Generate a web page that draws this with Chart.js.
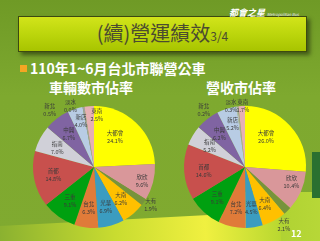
<!DOCTYPE html>
<html><head><meta charset="utf-8">
<script src="https://cdn.jsdelivr.net/npm/chart.js@4/dist/chart.umd.min.js"></script>
<style>
html,body{margin:0;padding:0;}
body{width:320px;height:241px;overflow:hidden;position:relative;background:#7ba62c;font-family:"Noto Sans CJK TC","Noto Sans",sans-serif;}
#bg{position:absolute;left:0;top:0;width:320px;height:241px;background:linear-gradient(180deg,#6f9a26 0%,#7ea92f 40%,#80aa30 100%);}
#panel{position:absolute;left:226px;top:192px;width:100px;height:60px;background:linear-gradient(90deg,#a6cc2c,#b8d838);}
#darkedge{position:absolute;left:312px;top:152px;width:8px;height:46px;background:#2a7030;}
#band{position:absolute;left:-20px;top:227px;width:300px;height:30px;background:linear-gradient(90deg,#80aa30 0%,#c9dc30 45%,#f0f040 75%,#b9d830 100%);transform:rotate(-3deg);transform-origin:0 0;}
#banner{position:absolute;left:18px;top:16px;width:287px;height:34px;background:linear-gradient(180deg,#d2e41a 0%,#bcd60c 50%,#a8c400 100%);border:1px solid #3d4a10;box-shadow:3px 3px 4px rgba(30,40,10,0.6);}
#title{position:absolute;left:0;top:15px;width:320px;height:36px;line-height:36px;text-align:center;color:#4b4b30;font-size:20px;padding-left:5px;box-sizing:border-box;}
#title small{font-size:12px;}
#logo{position:absolute;left:229px;top:6px;color:#fff;font-size:9px;font-style:italic;font-weight:bold;}
#logo span{font-size:4px;font-weight:normal;margin-left:2px;color:#eef;}
#bullet{position:absolute;left:20px;top:65px;width:7px;height:7px;background:#f5a623;}
#sub{position:absolute;left:30px;top:59px;color:#fff;font-weight:bold;font-size:14px;line-height:18px;}
.h{position:absolute;top:78px;color:#fff;font-weight:bold;font-size:14px;line-height:18px;width:140px;text-align:center;}
#page{position:absolute;left:291px;top:227px;color:#fff;font-weight:bold;font-size:9px;}
canvas{position:absolute;}
</style></head>
<body>
<div id="bg"></div>
<div id="panel"></div>
<div id="darkedge"></div>
<div id="band"></div>
<div id="banner"></div>
<div id="title">(續)營運績效<small>3/4</small></div>
<div id="logo">都會之星<span>Metropolitan Bus</span></div>
<div id="bullet"></div>
<div id="sub">110年1~6月台北市聯營公車</div>
<div class="h" style="left:21px">車輛數市佔率</div>
<div class="h" style="left:171px">營收市佔率</div>
<canvas id="c1" width="150" height="140" style="left:19px;top:97px"></canvas>
<canvas id="c2" width="150" height="140" style="left:170px;top:97px"></canvas>
<div id="page">12</div>
<script>
const companies = ["大都會","欣欣","大有","大南","光華","台北","三重","首都","指南","中興","新店","淡水","新北","東南"];
const vehicleShare = [24.1,9.6,1.9,6.2,6.9,6.3,9.1,14.8,7.0,6.7,4.0,0.0,0.5,2.5];
const revenueShare = [26.0,10.4,2.1,6.4,4.5,7.2,9.1,14.6,5.2,6.2,5.2,0.3,0.2,1.7];
const sliceColors = ["#ffff00","#d9979a","#77933c","#ffc000","#3b9cc0","#e07b39","#00a010","#c8504d","#d0d0d8","#8064a2","#b8cce4","#c0c0c0","#a0a0a0","#e6b0b4"];

const labelPlugin = {
  id:'sliceLabels',
  afterDatasetsDraw(chart, args, opts){
    const ctx = chart.ctx;
    const meta = chart.getDatasetMeta(0);
    const ds = chart.data.datasets[0];
    ctx.save();
    ctx.font = '5.5px "Noto Sans CJK TC", sans-serif';
    ctx.fillStyle = '#3a3a3a';
    ctx.textAlign = 'center';
    ctx.textBaseline = 'middle';
    meta.data.forEach((arc, i) => {
      const p = arc.getProps(['x','y','startAngle','endAngle','outerRadius'], true);
      let ang = (p.startAngle + p.endAngle) / 2;
      let rf = 0.68;
      const ov = (opts.overrides || {})[i];
      if (ov) { ang = ov[0] * Math.PI / 180; rf = ov[1]; }
      const x = p.x + Math.cos(ang) * p.outerRadius * rf;
      const y = p.y + Math.sin(ang) * p.outerRadius * rf;
      ctx.fillText(chart.data.labels[i], x, y - 4);
      ctx.fillText(ds.data[i].toFixed(1) + '%', x, y + 4);
    });
    ctx.restore();
  }
};

function makePie(id, values, overrides){
  new Chart(document.getElementById(id), {
    type:'pie',
    data:{labels:companies, datasets:[{data:values, backgroundColor:sliceColors, borderWidth:0}]},
    options:{
      responsive:false, animation:false,
      layout:{padding:{top:9,bottom:9,left:0,right:0}},
      plugins:{legend:{display:false}, tooltip:{enabled:false}, sliceLabels:{overrides}}
    },
    plugins:[labelPlugin]
  });
}
makePie('c1', vehicleShare, {0:[-55,0.6], 1:[16,0.82], 2:[34,1.12], 11:[-111,1.08], 12:[-128,1.18], 13:[-87,0.86], 10:[-106,0.78]});
makePie('c2', revenueShare, {0:[-55,0.6], 1:[18,0.8], 2:[56,1.14], 11:[-103,1.02], 12:[-126,1.15], 13:[-92,1.0], 10:[-106,0.74]});
</script>
</body></html>
